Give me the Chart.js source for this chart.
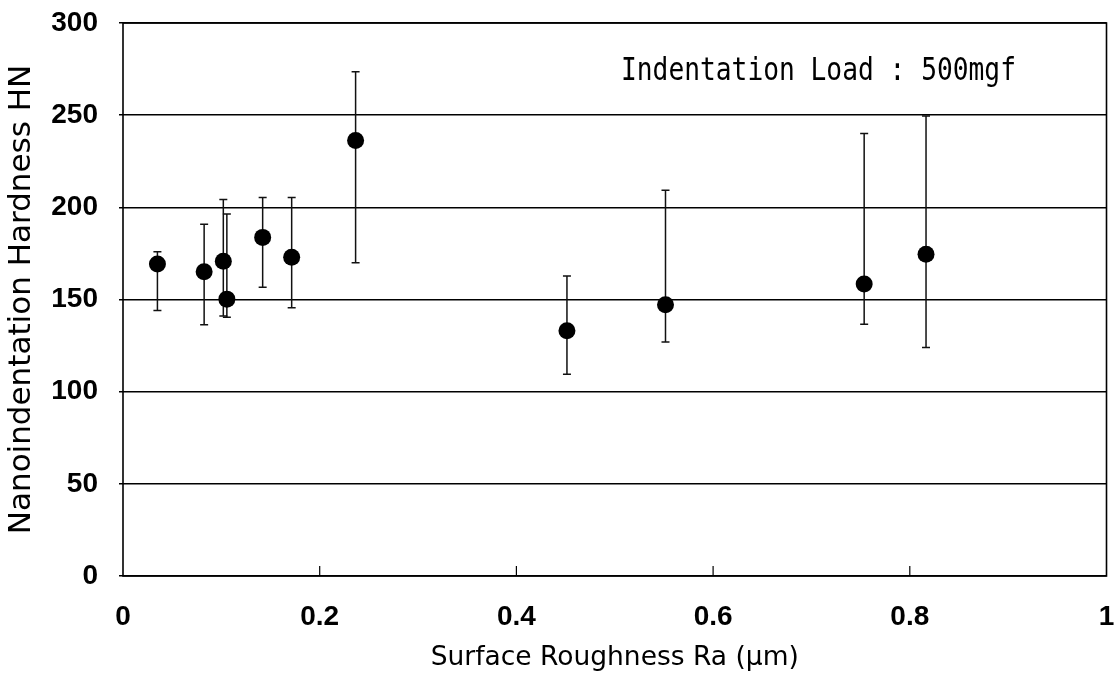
<!DOCTYPE html>
<html>
<head>
<meta charset="utf-8">
<script src="https://cdn.jsdelivr.net/npm/chart.js@4/dist/chart.umd.min.js"></script>
<style>
  html, body { margin: 0; padding: 0; background: #fff; }
  #wrap { width: 1115px; height: 680px; }
</style>
</head>
<body>
<div id="wrap"><canvas id="c" width="1115" height="680"></canvas></div>
<script>
// Surface roughness Ra (um)
const roughness = [0.035, 0.0825, 0.102, 0.1056, 0.142, 0.1715, 0.2365, 0.4514, 0.5516, 0.7536, 0.8165];
// Nanoindentation hardness HN (mean)
const hardness  = [169.2, 165.0, 170.8, 150.2, 183.7, 172.9, 236.2, 133.0, 147.1, 158.4, 174.6];
// Error bar ends
const errUpper  = [175.9, 190.8, 204.3, 196.4, 205.4, 205.4, 273.6, 162.7, 209.2, 240.0, 249.6];
const errLower  = [144.1, 136.3, 141.0, 140.4, 156.6, 145.5, 169.9, 109.5, 127.0, 136.6, 124.0];
const xTicks = [0, 0.2, 0.4, 0.6, 0.8, 1];
const yTicks = [0, 50, 100, 150, 200, 250, 300];
const annotationText = 'Indentation Load : 500mgf';

const points = roughness.map((x, i) => ({ x: x, y: hardness[i] }));

const framePlugin = {
  id: 'frameAndErrors',
  beforeDatasetsDraw(chart) {
    const { ctx, chartArea: a, scales } = chart;
    ctx.save();
    // error bars
    ctx.strokeStyle = '#111';
    ctx.lineWidth = 1.5;
    roughness.forEach((x, i) => {
      const px = scales.x.getPixelForValue(x);
      const yt = scales.y.getPixelForValue(errUpper[i]);
      const yb = scales.y.getPixelForValue(errLower[i]);
      ctx.beginPath();
      ctx.moveTo(px, yt); ctx.lineTo(px, yb);
      ctx.moveTo(px - 4, yt); ctx.lineTo(px + 4, yt);
      ctx.moveTo(px - 4, yb); ctx.lineTo(px + 4, yb);
      ctx.stroke();
    });
    // frame
    ctx.strokeStyle = '#000';
    ctx.lineWidth = 1.6;
    ctx.strokeRect(a.left, a.top, a.right - a.left, a.bottom - a.top);
    // inward x ticks
    ctx.lineWidth = 1.2;
    xTicks.forEach(v => {
      if (v === 0 || v === 1) return;
      const px = scales.x.getPixelForValue(v);
      ctx.beginPath();
      ctx.moveTo(px, a.bottom); ctx.lineTo(px, a.bottom - 10);
      ctx.stroke();
    });
    ctx.restore();
  },
  afterDraw(chart) {
    const { ctx } = chart;
    ctx.save();
    ctx.fillStyle = '#000';
    ctx.font = '32px "DejaVu Sans Mono"';
    ctx.textBaseline = 'alphabetic';
    ctx.textAlign = 'left';
    ctx.translate(621, 80);
    ctx.scale(0.82, 1);
    ctx.fillText(annotationText, 0, 0);
    ctx.restore();
  }
};

new Chart(document.getElementById('c'), {
  type: 'scatter',
  data: {
    datasets: [{
      data: points,
      backgroundColor: '#000',
      borderWidth: 0,
      pointRadius: 8.5,
      pointHoverRadius: 8.5
    }]
  },
  options: {
    responsive: false,
    animation: false,
    events: [],
    layout: { padding: { top: 23, right: 7, left: 0, bottom: 0 } },
    plugins: { legend: { display: false }, tooltip: { enabled: false } },
    scales: {
      x: {
        type: 'linear', min: 0, max: 1,
        afterBuildTicks(s) { s.ticks = xTicks.map(v => ({ value: v })); },
        afterFit(s) { s.height = 104; s.paddingLeft = 0; s.paddingRight = 0; },
        grid: { display: false, drawTicks: false },
        border: { display: false },
        ticks: {
          padding: 24,
          color: '#000',
          font: { family: '"Liberation Sans", Arial, sans-serif', size: 28, weight: 'bold' },
          callback: v => String(v),
          maxRotation: 0
        },
        title: {
          display: true,
          text: 'Surface Roughness Ra (\u03bcm)',
          color: '#000',
          font: { family: '"DejaVu Sans", sans-serif', size: 26.5 },
          padding: { top: 0, bottom: 6 }
        }
      },
      y: {
        type: 'linear', min: 0, max: 300,
        afterBuildTicks(s) { s.ticks = yTicks.map(v => ({ value: v })); },
        afterFit(s) { s.width = 123; s.paddingTop = 0; s.paddingBottom = 0; },
        grid: { color: '#000', lineWidth: 1.5, tickLength: 4, drawTicks: true },
        border: { display: false },
        ticks: {
          padding: 21,
          color: '#000',
          font: { family: '"Liberation Sans", Arial, sans-serif', size: 28, weight: 'bold' }
        },
        title: {
          display: true,
          text: 'Nanoindentation Hardness HN',
          color: '#000',
          font: { family: '"DejaVu Sans", sans-serif', size: 31 },
          padding: { top: 3, bottom: 0 }
        }
      }
    }
  },
  plugins: [framePlugin]
});
</script>
</body>
</html>
